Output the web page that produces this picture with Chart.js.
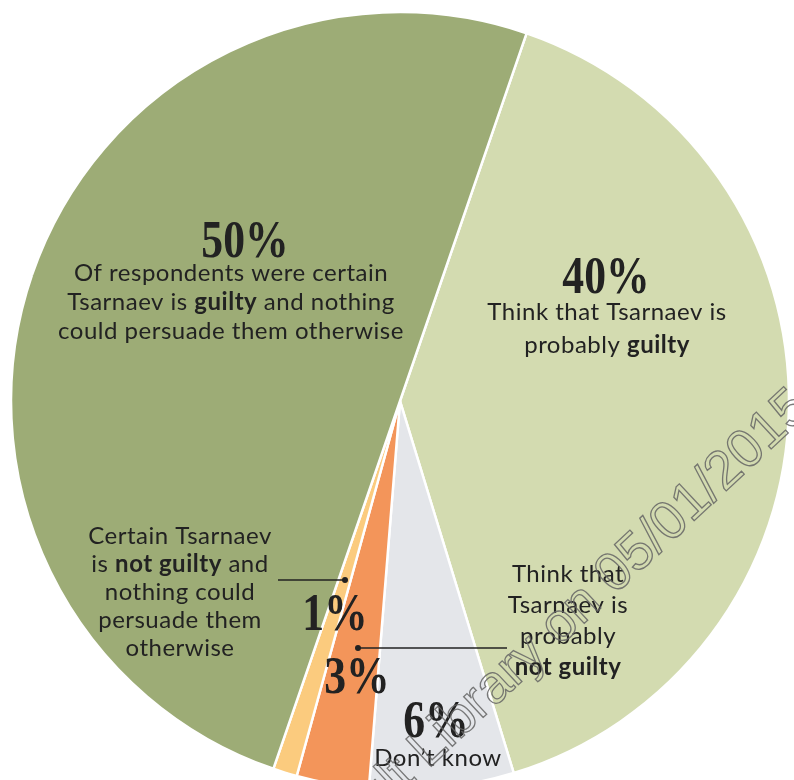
<!DOCTYPE html>
<html>
<head>
<meta charset="utf-8">
<script src="https://cdn.jsdelivr.net/npm/chart.js@4.4.1/dist/chart.umd.min.js"></script>
<style>
    html, body { margin: 0; padding: 0; background: #fff; overflow: hidden; }
    #wrap { position: absolute; left: 0; top: 0; width: 800px; height: 802px; }
</style>
</head>
<body>
<div id="wrap"><canvas id="chart"></canvas></div>
<script>
// survey answers, clockwise from the top
const CATEGORIES = [
    "Probably guilty",
    "Don't know",
    "Probably not guilty",
    "Certain not guilty",
    "Certain guilty"
];
const SHARES = [40, 6, 3, 1, 50];
const COLORS = [
    "#D3DBB0", // light green
    "#E4E6EA", // grey
    "#F3955A", // orange
    "#FBCB7E", // light orange
    "#9DAC76"  // green
];
// caption lines, **text** is set in bold
const NOTES = [
    ["Think that Tsarnaev is", "probably **guilty**"],
    ["Don\u2019t know"],
    ["Think that", "Tsarnaev is", "probably", "**not guilty**"],
    ["Certain Tsarnaev", "is **not guilty** and", "nothing could", "persuade them", "otherwise"],
    ["Of respondents were certain", "Tsarnaev is **guilty** and nothing", "could persuade them otherwise"]
];
const STAMP = "ult Library on 05/01/2015";

// where each caption sits, relative to the pie centre
const PLACES = [
    { pct: [206, -108], text: [207, -89], lh: 33 },
    { pct: [36, 336], text: [38, 357], lh: 30 },
    { pct: [-43, 292], text: [168, 173], lh: 31, lead: [[-42, 247], [107, 247]] },
    { pct: [-65, 229], text: [-220, 135], lh: 28, lead: [[-55, 179], [-122, 179]] },
    { pct: [-155, -144], text: [-169, -128], lh: 29 }
];

const INK = "#222";
const BODY = "Lato, 'Noto Sans', sans-serif";
const FIGURE = "'Liberation Serif', 'DejaVu Serif', serif";

function richLine(ctx, str, x, y, size) {
    const parts = str.split("**").map((t, i) => ({ t: t, bold: i % 2 === 1 }));
    let total = 0;
    parts.forEach(p => {
        ctx.font = (p.bold ? "bold " : "") + size + "px " + BODY;
        p.w = ctx.measureText(p.t).width;
        total += p.w;
    });
    let left = x - total / 2;
    ctx.textAlign = "left";
    parts.forEach(p => {
        ctx.font = (p.bold ? "bold " : "") + size + "px " + BODY;
        ctx.fillText(p.t, left, y);
        left += p.w;
    });
}

const captions = {
    id: "captions",
    afterDatasetsDraw(chart) {
        const ctx = chart.ctx;
        const arc = chart.getDatasetMeta(0).data[0];
        const cx = arc.x, cy = arc.y;

        ctx.save();
        ctx.fillStyle = INK;
        ctx.strokeStyle = INK;
        SHARES.forEach((v, i) => {
            const p = PLACES[i];
            // big figure, squeezed a little
            ctx.save();
            ctx.translate(cx + p.pct[0], cy + p.pct[1]);
            ctx.scale(0.84, 1);
            ctx.font = "bold 52px " + FIGURE;
            ctx.textAlign = "center";
            ctx.textBaseline = "alphabetic";
            ctx.fillText(v + "%", 0, 0);
            ctx.restore();
            // caption
            ctx.textBaseline = "middle";
            ctx.letterSpacing = "0.5px";
            NOTES[i].forEach((line, k) => {
                richLine(ctx, line, cx + p.text[0], cy + p.text[1] + k * p.lh, 24);
            });
            ctx.letterSpacing = "0px";
            // leader line with a dot on the slice
            if (p.lead) {
                const a = p.lead[0], b = p.lead[1];
                ctx.lineWidth = 1.6;
                ctx.beginPath();
                ctx.moveTo(cx + a[0], cy + a[1]);
                ctx.lineTo(cx + b[0], cy + b[1]);
                ctx.stroke();
                ctx.beginPath();
                ctx.arc(cx + a[0], cy + a[1], 3, 0, Math.PI * 2);
                ctx.fill();
            }
        });
        ctx.restore();
    },
    afterDraw(chart) {
        // library stamp across the lower right
        const ctx = chart.ctx;
        ctx.save();
        ctx.translate(802, 400);
        ctx.rotate(-43 * Math.PI / 180);
        ctx.font = "54px 'Liberation Sans', Arial, sans-serif";
        ctx.textAlign = "right";
        ctx.textBaseline = "middle";
        ctx.lineWidth = 1.3;
        ctx.strokeStyle = "rgba(100, 100, 100, 0.85)";
        ctx.strokeText(STAMP, 0, 0);
        ctx.restore();
    }
};

Chart.defaults.font.family = BODY;

new Chart(document.getElementById("chart").getContext("2d"), {
    type: "pie",
    data: {
        labels: CATEGORIES,
        datasets: [{
            data: SHARES,
            backgroundColor: COLORS,
            borderColor: "#fff",
            borderWidth: 2.5
        }]
    },
    options: {
        responsive: true,
        maintainAspectRatio: false,
        animation: false,
        rotation: 19,
        radius: 389,
        layout: { padding: 12 },
        plugins: {
            legend: { display: false },
            tooltip: { enabled: false }
        }
    },
    plugins: [captions]
});
</script>
</body>
</html>
